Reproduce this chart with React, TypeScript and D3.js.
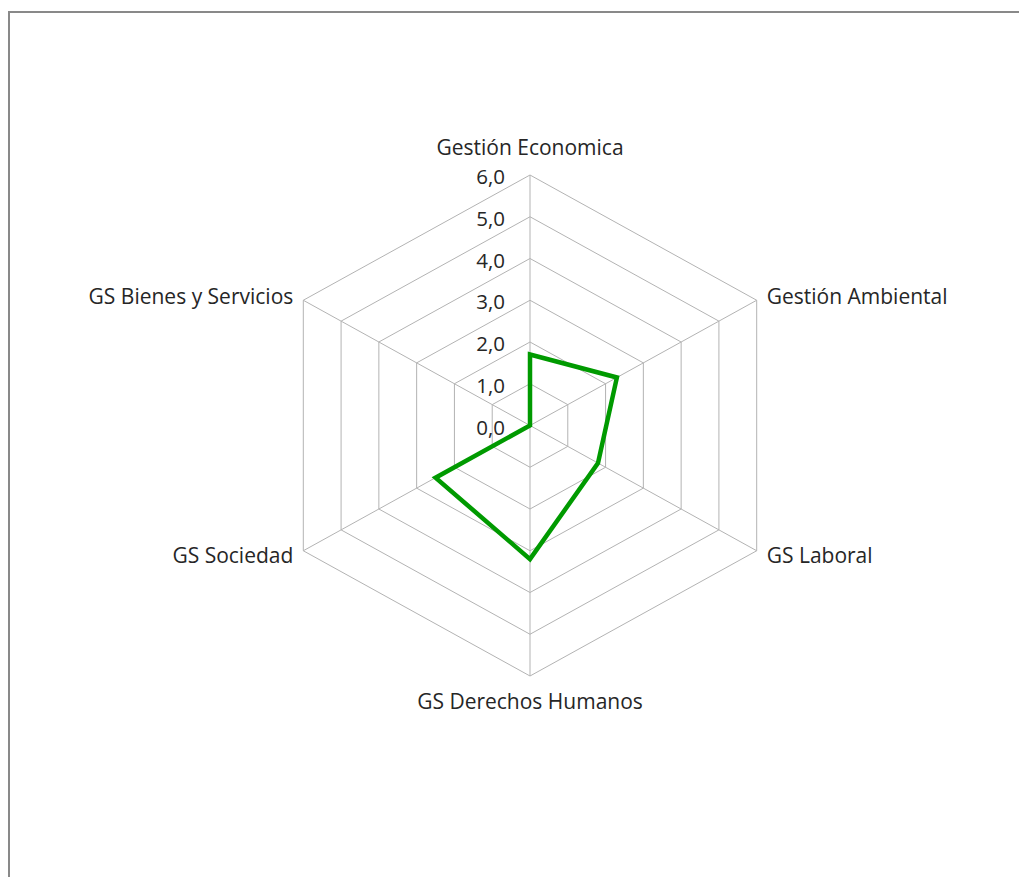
import * as d3 from "d3";
import { useEffect, useRef } from "react";

const categories = [
  "Gestión Economica",
  "Gestión Ambiental",
  "GS Laboral",
  "GS Derechos Humanos",
  "GS Sociedad",
  "GS Bienes y Servicios",
];
const values = [1.7, 2.3, 1.8, 3.2, 2.5, 0];
const ticks = [0, 1, 2, 3, 4, 5, 6];

export default function App() {
  const ref = useRef<SVGSVGElement>(null);

  useEffect(() => {
    document.body.style.margin = "0";
    if (!ref.current) return;
    const svg = d3.select(ref.current);
    svg.selectAll("*").remove();

    const width = 1019;
    const height = 877;
    const cx = 530;
    const cy = 425.5;
    // the plot is drawn slightly wider than tall, as in the source
    const radiusY = 250.5;
    const radiusX = 226.7 / Math.sin(Math.PI / 3);
    const font = "'Open Sans', 'Noto Sans', sans-serif";
    const textColor = "#262626";

    svg.attr("width", width).attr("height", height);

    // chart area border (runs off the right and bottom edges)
    svg
      .append("rect")
      .attr("x", 9)
      .attr("y", 12)
      .attr("width", width + 20)
      .attr("height", height + 20)
      .attr("fill", "#fff")
      .attr("stroke", "#898989")
      .attr("stroke-width", 2);

    const r = d3.scaleLinear().domain([0, 6]).range([0, 1]);
    const angle = d3
      .scaleLinear()
      .domain([0, categories.length])
      .range([0, 2 * Math.PI]);

    const pt = (i: number, v: number): [number, number] => {
      const a = angle(i);
      return [cx + r(v) * radiusX * Math.sin(a), cy - r(v) * radiusY * Math.cos(a)];
    };

    const g = svg.append("g");

    // grid rings
    ticks.slice(1).forEach((t) => {
      const pts = categories.map((_, i) => pt(i, t));
      g.append("path")
        .attr("d", d3.line()(pts) + "Z")
        .attr("fill", "none")
        .attr("stroke", "#b3b3b3")
        .attr("stroke-width", 1);
    });

    // spokes
    categories.forEach((_, i) => {
      const [x, y] = pt(i, 6);
      g.append("line")
        .attr("x1", cx)
        .attr("y1", cy)
        .attr("x2", x)
        .attr("y2", y)
        .attr("stroke", "#b3b3b3")
        .attr("stroke-width", 1);
    });

    // tick labels
    ticks.forEach((t) => {
      g.append("text")
        .attr("x", cx - 25)
        .attr("y", pt(0, t)[1] + 2)
        .attr("dy", "0.35em")
        .attr("text-anchor", "end")
        .attr("font-family", font)
        .attr("font-size", 20.5)
        .attr("fill", textColor)
        .text(d3.format(".1f")(t).replace(".", ","));
    });

    // data line
    const dataPts = values.map((v, i) => pt(i, v));
    g.append("path")
      .attr("d", d3.line()(dataPts) + "Z")
      .attr("fill", "none")
      .attr("stroke", "#009a00")
      .attr("stroke-width", 4.5)
      .attr("stroke-linejoin", "miter");

    // category labels
    categories.forEach((c, i) => {
      const a = angle(i);
      const [x, y] = pt(i, 6);
      const s = Math.sin(a);
      const co = Math.cos(a);
      let anchor = "middle";
      let lx = x;
      let ly = y;
      if (s > 0.1) {
        anchor = "start";
        lx = x + 10;
        ly = co > 0 ? y - 4 : y + 5;
      } else if (s < -0.1) {
        anchor = "end";
        lx = x - 10;
        ly = co > 0 ? y - 4 : y + 5;
      } else if (co > 0) {
        ly = y - 27;
      } else {
        ly = y + 26;
      }
      g.append("text")
        .attr("x", lx)
        .attr("y", ly)
        .attr("dy", "0.35em")
        .attr("text-anchor", anchor)
        .attr("font-family", font)
        .attr("font-size", 21)
        .attr("fill", textColor)
        .text(c);
    });
  }, []);

  return <svg ref={ref} style={{ display: "block" }} />;
}
